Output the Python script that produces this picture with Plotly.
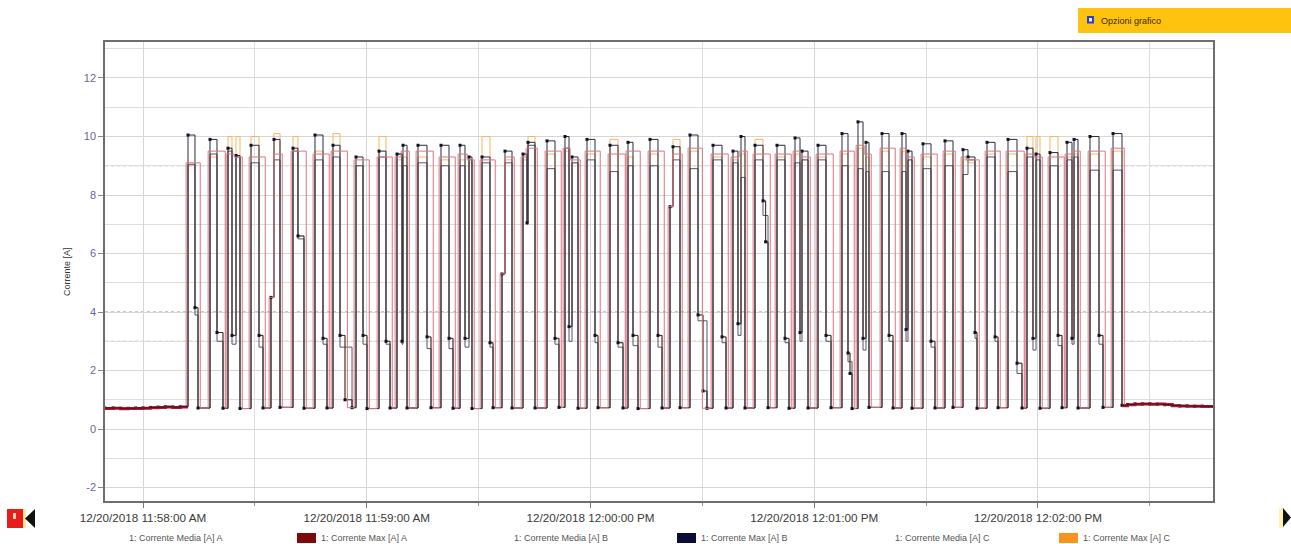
import pandas as pd
import plotly.graph_objects as go

# ---------------- data (seconds after 12/20/2018 11:58:00) ----------------
START = "2018-12-20 11:58:00"

t_rise = [12.07, 17.97, 22.79, 24.94, 28.96, 34.32, 40.22, 46.12, 50.95, 57.12,
          63.29, 68.11, 69.72, 73.74, 79.91, 85.01, 87.42, 90.91, 96.27, 101.90,
          103.24, 108.34, 113.16, 115.04, 119.06, 125.23, 130.06, 135.96, 141.32, 146.68,
          152.85, 158.21, 160.36, 164.11, 170.01, 174.84, 176.72, 181.01, 187.44, 191.73,
          193.88, 198.17, 203.53, 205.14, 209.16, 215.06, 219.89, 221.23, 226.33, 231.96,
          237.05, 239.47, 243.22, 247.78, 249.66, 253.95, 260.12]
t_drop = [13.94, 19.84, 23.87, 26.01, 31.11, 36.74, 41.56, 48.27, 52.83, 59.00,
          65.16, 69.45, 70.80, 76.16, 82.06, 86.35, 88.22, 93.05, 98.95, 102.97,
          105.12, 110.48, 114.24, 116.65, 121.21, 127.38, 131.40, 138.10, 144.00, 148.83,
          155.27, 159.55, 161.43, 166.26, 172.16, 176.18, 178.33, 183.15, 189.05, 193.08,
          194.68, 200.05, 204.61, 206.22, 211.31, 217.21, 221.23, 223.11, 228.48, 234.37,
          238.66, 240.54, 245.37, 249.12, 250.73, 256.36, 262.53]
t_off = [14.75, 21.45, 24.94, 26.01, 32.18, 36.74, 43.17, 49.34, 56.05, 60.07,
         66.24, 69.72, 70.80, 77.23, 83.13, 87.42, 88.22, 93.86, 98.95, 103.24,
         105.12, 111.55, 115.04, 116.65, 122.01, 128.72, 132.74, 139.18, 144.00, 151.24,
         156.34, 160.36, 161.43, 167.60, 173.23, 176.72, 178.33, 184.50, 190.13, 193.88,
         194.68, 201.12, 205.14, 206.22, 212.38, 217.21, 221.23, 223.65, 229.28, 235.71,
         239.47, 240.54, 246.44, 249.66, 250.73, 257.43, 262.53]

# phase A switches a little earlier on and later off
t_rise_a = [11.57, 17.47, 22.29, 24.44, 28.46, 33.82, 39.72, 45.62, 50.45, 56.62,
            62.79, 67.61, 69.22, 73.24, 79.41, 84.51, 86.92, 90.41, 95.77, 101.40,
            102.74, 107.84, 112.66, 114.54, 118.56, 124.73, 129.56, 135.46, 140.82, 146.18,
            152.35, 157.71, 159.86, 163.61, 169.51, 174.34, 176.22, 180.51, 186.94, 191.23,
            193.38, 197.67, 203.03, 204.64, 208.66, 214.56, 219.39, 220.73, 225.83, 231.46,
            236.55, 238.97, 242.72, 247.28, 249.16, 253.45, 259.62]
t_off_a = [15.35, 22.05, 25.54, 26.61, 32.78, 37.34, 43.77, 49.94, 54.80, 60.67,
           66.84, 70.32, 71.40, 77.83, 83.73, 88.02, 88.82, 94.46, 99.55, 103.84,
           105.72, 112.15, 115.64, 117.25, 122.61, 129.32, 133.34, 139.78, 144.60, 150.00,
           156.94, 160.96, 162.03, 168.20, 173.83, 177.32, 178.93, 185.10, 190.73, 194.48,
           195.28, 201.72, 205.74, 206.82, 212.98, 217.81, 221.83, 224.25, 229.88, 236.31,
           240.07, 241.14, 247.04, 250.26, 251.33, 258.03, 263.13]

# Corrente Max [A] B (upper level / intermediate level)
max_b_hi = [10.05, 9.9, 9.6, 9.35, 9.7, 9.9, 9.6, 10.05, 9.7, 9.3,
            9.5, 9.4, 9.7, 9.7, 9.7, 9.7, 9.3, 9.3, 9.5, 9.4,
            9.8, 9.85, 10.0, 9.3, 9.9, 9.7, 9.8, 9.9, 9.65, 10.05,
            9.7, 9.5, 10.0, 9.7, 9.7, 9.95, 9.5, 9.7, 10.1, 10.5,
            9.8, 10.1, 10.1, 9.5, 9.75, 9.85, 9.55, 9.3, 9.8, 9.9,
            9.6, 9.4, 9.45, 9.8, 9.9, 10.0, 10.1]
max_b_mid = [4.15, 3.3, 3.2, None, 3.2, None, 6.6, 3.1, 3.2, 3.2,
             3.0, 3.0, None, 3.15, 3.1, 3.1, None, 2.95, None, 7.05,
             None, 3.1, 3.5, None, 3.2, 2.95, 3.2, 3.2, None, 3.9,
             3.15, 3.6, None, 7.8, 3.1, 3.3, None, 3.2, 2.6, 3.1,
             None, 3.2, 3.4, None, 3.0, None, None, 3.3, 3.15, 2.25,
             3.1, None, 3.2, 3.1, None, 3.2, None]
# Corrente Media [A] B
media_b_hi = [9.05, 9.4, 9.5, 9.3, 9.1, 9.2, 9.5, 9.2, 9.3, 9.0,
              9.3, 9.4, 9.0, 9.1, 9.0, 9.0, 9.2, 9.1, 9.1, 9.4,
              9.7, 8.9, 9.6, 9.1, 9.2, 8.8, 9.0, 9.0, 9.2, 8.9,
              9.2, 9.1, 8.6, 9.2, 9.2, 9.1, 9.2, 9.2, 9.0, 8.9,
              8.8, 8.8, 8.8, 9.2, 8.9, 9.0, 8.7, 9.2, 9.3, 8.8,
              9.3, 9.2, 9.0, 9.2, 9.3, 8.85, 8.85]
media_b_mid = [3.9, 3.0, 2.9, None, 2.8, None, 6.5, 2.9, 2.8, 2.9,
               2.9, 2.9, None, 2.75, 2.75, 2.8, None, 2.8, None, 7.0,
               None, 2.9, 3.0, None, 2.95, 2.8, 2.85, 2.8, None, 3.7,
               2.95, 3.2, None, 7.3, 2.95, 3.0, None, 3.0, 2.3, 2.7,
               None, 3.0, 3.0, None, 2.8, None, None, 3.1, 3.0, 1.9,
               2.7, None, 2.85, 2.9, None, 2.9, None]
# Corrente Max [A] A
max_a_hi = [9.1, 9.5, 9.4, 9.3, 9.3, 9.4, 9.5, 9.4, 9.5, 9.2,
            9.3, 9.3, 9.5, 9.5, 9.3, 9.4, 9.2, 9.2, 9.3, 9.3,
            9.6, 9.5, 9.6, 9.2, 9.5, 9.4, 9.5, 9.5, 9.4, 9.6,
            9.4, 9.3, 9.5, 9.4, 9.4, 9.5, 9.3, 9.4, 9.5, 9.7,
            9.4, 9.6, 9.6, 9.3, 9.4, 9.5, 9.3, 9.2, 9.5, 9.5,
            9.4, 9.3, 9.3, 9.4, 9.5, 9.5, 9.6]
# Corrente Max [A] C
max_c_hi = [9.0, 9.3, 10.0, 10.0, 10.0, 10.1, 10.0, 9.5, 10.1, 9.0,
            10.0, 9.2, 9.3, 9.3, 9.2, 9.2, 9.1, 10.0, 9.2, 9.2,
            10.0, 9.4, 9.5, 9.1, 9.4, 9.9, 9.3, 9.4, 9.9, 9.5,
            9.3, 9.2, 9.4, 9.9, 9.3, 9.4, 9.2, 9.3, 9.4, 9.6,
            9.3, 9.5, 9.5, 9.2, 9.3, 9.4, 9.2, 9.1, 9.4, 9.4,
            10.0, 10.0, 10.0, 9.3, 9.4, 9.4, 9.5]
base_after = [0.72, 0.71, 0.73, 0.70, 0.72, 0.74, 0.71, 0.72, 0.73, 0.70,
              0.72, 0.71, 0.72, 0.73, 0.71, 0.72, 0.70, 0.73, 0.72, 0.71,
              0.72, 0.74, 0.72, 0.71, 0.73, 0.72, 0.70, 0.72, 0.73, 0.71,
              0.72, 0.74, 0.72, 0.73, 0.71, 0.72, 0.72, 0.73, 0.70, 0.72,
              0.74, 0.72, 0.73, 0.71, 0.72, 0.74, 0.72, 0.71, 0.73, 0.72,
              0.72, 0.71, 0.73, 0.72, 0.72, 0.74, 0.76]

# intermediate step on the rising edge
pre_cycle = [5, 18, 28]
pre_value = [4.5, 5.3, 7.6]
pre_until = [35.13, 97.07, 142.12]
# second low step before returning to idle
low_cycle = [8, 29, 33, 38]
low_value = [1.0, 1.3, 6.4, 1.9]
low_time = [54.17, 150.17, 166.96, 189.59]

# idle current before / after the working phase
lead_t = [-10.2, -8.0, -6.0, -4.0, -2.0, 0.0, 2.0, 4.0, 6.0, 8.0, 10.0, 12.07]
lead_a = [0.70, 0.71, 0.69, 0.70, 0.70, 0.71, 0.73, 0.74, 0.75, 0.74, 0.75, 0.75]
lead_b = [0.72, 0.72, 0.71, 0.71, 0.72, 0.72, 0.74, 0.75, 0.76, 0.75, 0.76, 0.76]
tail_t = [262.53, 264.0, 266.0, 268.0, 270.0, 272.0, 274.0, 276.0, 278.0, 280.0, 282.0, 284.0, 286.93]
tail_a = [0.80, 0.83, 0.85, 0.86, 0.85, 0.86, 0.84, 0.80, 0.79, 0.78, 0.78, 0.77, 0.77]
tail_b = [0.81, 0.84, 0.86, 0.86, 0.86, 0.85, 0.83, 0.81, 0.79, 0.79, 0.78, 0.78, 0.77]

x_ticks = ["12/20/2018 11:58:00 AM", "12/20/2018 11:59:00 AM", "12/20/2018 12:00:00 PM",
           "12/20/2018 12:01:00 PM", "12/20/2018 12:02:00 PM"]
y_ticks = [-2, 0, 2, 4, 6, 8, 10, 12]
y_ticktext = ["-2", "0", "2", "4", "6", "8", "10", "12"]
threshold_levels = [10, 9, 4, 3]

legend_labels = ["1: Corrente Media [A] A", "1: Corrente Max [A] A", "1: Corrente Media [A] B",
                 "1: Corrente Max [A] B", "1: Corrente Media [A] C", "1: Corrente Max [A] C"]
legend_swatch = [None, "#7d0a0a", None, "#0c0c38", None, "#f7931e"]

# ---------------- helpers ----------------
base_ts = pd.Timestamp(START)


def to_time(secs):
    return [base_ts + pd.Timedelta(seconds=s) for s in secs]


def build(hi, mid, lead_vals, tail_vals, rise=None, off=None, with_pre=True, with_low=True):
    rise = rise or t_rise
    off = off or t_off
    xs = list(lead_t[:-1])
    ys = list(lead_vals[:-1])
    n = len(rise)
    for i in range(n):
        if with_pre and i in pre_cycle:
            k = pre_cycle.index(i)
            xs += [rise[i], pre_until[k]]
            ys += [pre_value[k], hi[i]]
        else:
            xs.append(rise[i])
            ys.append(hi[i])
        if mid is not None and mid[i] is not None and t_drop[i] < off[i]:
            xs.append(t_drop[i])
            ys.append(mid[i])
            if with_low and i in low_cycle:
                k = low_cycle.index(i)
                xs.append(low_time[k])
                ys.append(low_value[k])
        if i < n - 1 and rise[i + 1] > off[i]:
            xs.append(off[i])
            ys.append(base_after[i])
    xs += [max(off[-1], tail_t[0])] + tail_t[1:]
    ys += tail_vals
    return to_time(xs), ys


# ---------------- figure ----------------
W, H = 1291, 544
L, R, T, B = 105, 78, 42, 43
PW, PH = W - L - R, H - T - B


def px(X):
    return (X - L) / PW


def py(Y):
    return (H - B - Y) / PH


FONT = "Liberation Sans, Arial, sans-serif"
fig = go.Figure()

xc, yc = build(max_c_hi, max_b_mid, lead_b, tail_b)
fig.add_trace(go.Scatter(x=xc, y=yc, mode="lines", line=dict(color="#f8b560", width=1, shape="hv"),
                         name=legend_labels[5], showlegend=False, hoverinfo="skip"))
xm, ym = build(media_b_hi, media_b_mid, lead_b, tail_b, with_low=False)
fig.add_trace(go.Scatter(x=xm, y=ym, mode="lines", line=dict(color="#55556a", width=1, shape="hv"),
                         name=legend_labels[2], showlegend=False, hoverinfo="skip"))
xb, yb = build(max_b_hi, max_b_mid, lead_b, tail_b)
fig.add_trace(go.Scatter(x=xb, y=yb, mode="lines+markers",
                         line=dict(color="#2a2a3c", width=1, shape="hv"),
                         marker=dict(size=3, color="#111122", symbol="square"),
                         name=legend_labels[3], showlegend=False, hoverinfo="skip"))
xa, ya = build(max_a_hi, None, lead_a, tail_a, rise=t_rise_a, off=t_off_a)
fig.add_trace(go.Scatter(x=xa, y=ya, mode="lines", line=dict(color="#dc7482", width=1, shape="hv"),
                         name=legend_labels[1], showlegend=False, hoverinfo="skip"))
# idle sections drawn heavier (all phases overlap there)
for tt, va, vb in [(lead_t, lead_a, lead_b), (tail_t, tail_a, tail_b)]:
    fig.add_trace(go.Scatter(x=to_time(tt), y=va, mode="lines",
                             line=dict(color="#b01830", width=3, shape="hv"),
                             showlegend=False, hoverinfo="skip"))
    fig.add_trace(go.Scatter(x=to_time(tt), y=vb, mode="lines",
                             line=dict(color="#3a1020", width=1, shape="hv"),
                             showlegend=False, hoverinfo="skip"))

shapes = []
for lv in threshold_levels:
    shapes.append(dict(type="line", xref="paper", yref="y", x0=0, x1=1, y0=lv, y1=lv,
                       line=dict(color="#8e8e8e" if lv in (10, 4) else "#a6a6a6", width=1, dash="dot"),
                       layer="below"))

# top right button
shapes.append(dict(type="rect", xref="paper", yref="paper", x0=px(1078), x1=px(1291),
                   y0=py(33), y1=py(8), fillcolor="#ffc20e", line=dict(width=0), layer="above"))
shapes.append(dict(type="rect", xref="paper", yref="paper", x0=px(1087), x1=px(1094),
                   y0=py(23.5), y1=py(16), fillcolor="#2c3cd4", line=dict(width=0)))
shapes.append(dict(type="rect", xref="paper", yref="paper", x0=px(1089), x1=px(1092),
                   y0=py(21.5), y1=py(18), fillcolor="#e8ecff", line=dict(width=0)))
# navigation icons
shapes.append(dict(type="rect", xref="paper", yref="paper", x0=px(7), x1=px(23),
                   y0=py(528), y1=py(509), fillcolor="#e81c1c", line=dict(width=0)))
shapes.append(dict(type="rect", xref="paper", yref="paper", x0=px(13), x1=px(16),
                   y0=py(519), y1=py(513), fillcolor="#ffd6b0", line=dict(width=0)))
shapes.append(dict(type="rect", xref="paper", yref="paper", x0=px(23), x1=px(26),
                   y0=py(528), y1=py(509), fillcolor="#ffe9a0", line=dict(width=0)))
shapes.append(dict(type="path", xref="paper", yref="paper",
                   path=f"M {px(35)},{py(509)} L {px(25)},{py(518.5)} L {px(35)},{py(528)} Z",
                   fillcolor="#111111", line=dict(width=0)))
shapes.append(dict(type="rect", xref="paper", yref="paper", x0=px(1279), x1=px(1284),
                   y0=py(528), y1=py(508), fillcolor="#fff1b8", line=dict(width=0)))
shapes.append(dict(type="path", xref="paper", yref="paper",
                   path=f"M {px(1283)},{py(508)} L {px(1291)},{py(517.5)} L {px(1283)},{py(527)} Z",
                   fillcolor="#111111", line=dict(width=0)))

annotations = []
annotations.append(dict(text="Opzioni grafico", xref="paper", yref="paper", x=px(1099), y=py(20.5),
                        xanchor="left", yanchor="middle", showarrow=False,
                        font=dict(family=FONT, size=9, color="#3a2a00")))
annotations.append(dict(text="Corrente [A]", xref="paper", yref="paper", x=px(67), y=py(272),
                        xanchor="center", yanchor="middle", showarrow=False, textangle=-90,
                        font=dict(family=FONT, size=9, color="#333333")))

# legend row (text + square swatches)
legend_x = [127, 297, 512, 677, 893, 1059]
for lab, col, X in zip(legend_labels, legend_swatch, legend_x):
    tx = X
    if col is not None:
        shapes.append(dict(type="rect", xref="paper", yref="paper", x0=px(X), x1=px(X + 19),
                           y0=py(543), y1=py(533), fillcolor=col, line=dict(width=0)))
        tx = X + 22
    annotations.append(dict(text=lab, xref="paper", yref="paper", x=px(tx), y=py(538),
                            xanchor="left", yanchor="middle", showarrow=False,
                            font=dict(family=FONT, size=9, color="#555555")))

x0 = base_ts + pd.Timedelta(seconds=-10.19)
x1 = base_ts + pd.Timedelta(seconds=286.93)

fig.update_layout(
    width=W, height=H,
    margin=dict(l=L, r=R, t=T, b=B),
    paper_bgcolor="white", plot_bgcolor="white",
    font=dict(family=FONT, size=11, color="#333333"),
    showlegend=False,
    shapes=shapes,
    annotations=annotations,
    xaxis=dict(
        type="date", range=[x0, x1],
        tickmode="array",
        tickvals=[base_ts + pd.Timedelta(minutes=m) for m in range(len(x_ticks))],
        ticktext=x_ticks,
        ticks="outside", ticklen=5, tickcolor="#777777",
        tickfont=dict(family=FONT, size=11.7, color="#3a3a3a"),
        showgrid=True, gridcolor="#d6d6d6", gridwidth=1,
        minor=dict(tickmode="array",
                   tickvals=[base_ts + pd.Timedelta(seconds=30 + 60 * m) for m in range(len(x_ticks))],
                   ticks="outside", ticklen=3, tickcolor="#999999",
                   showgrid=True, gridcolor="#dedede"),
        showline=True, linecolor="#6e6e6e", linewidth=1.5, mirror=True,
        zeroline=False,
    ),
    yaxis=dict(
        range=[-2.46, 13.23],
        tickmode="array", tickvals=y_ticks, ticktext=y_ticktext,
        ticks="outside", ticklen=5, tickcolor="#888888",
        tickfont=dict(family=FONT, size=11, color="#67679a"),
        showgrid=True, gridcolor="#d6d6d6",
        minor=dict(dtick=1, tick0=0, showgrid=True, gridcolor="#dedede", ticks=""),
        showline=True, linecolor="#6e6e6e", linewidth=1.5, mirror=True,
        zeroline=False,
    ),
)

fig.write_html("out.html", config={"displayModeBar": False},
               post_script="document.body.style.margin='0';")
